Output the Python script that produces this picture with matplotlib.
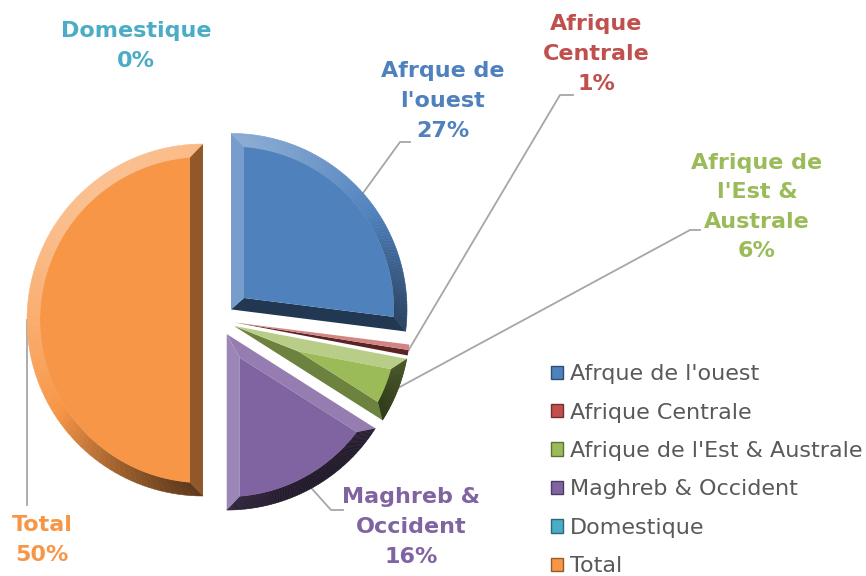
import numpy as np
import matplotlib
matplotlib.use("Agg")
import matplotlib.pyplot as plt
from matplotlib.patches import Polygon
from matplotlib.colors import to_rgb

# ---- data ----
categories = ["Afrque de l'ouest", "Afrique Centrale", "Afrique de l'Est & Australe",
              "Maghreb & Occident", "Domestique", "Total"]
values = [27, 1, 6, 16, 0, 50]
label_texts = ["Afrque de\nl'ouest\n27%", "Afrique\nCentrale\n1%", "Afrique de\nl'Est &\nAustrale\n6%",
               "Maghreb &\nOccident\n16%", "Domestique\n0%", "Total\n50%"]
colors = ["#4F81BD", "#C0504D", "#9BBB59", "#8064A2", "#4BACC6", "#F79646"]

W, H = 866, 576
fig = plt.figure(figsize=(W / 100, H / 100), dpi=100)
ax = fig.add_axes([0, 0, 1, 1])

R = 176
CENTER = (219, H - 320)
EXPL = 16
wedges, _ = ax.pie(values, colors=colors, startangle=90, counterclock=False,
                   radius=R, center=CENTER, explode=[EXPL] * len(values),
                   frame=True)
ax.set_xlim(0, W)
ax.set_ylim(0, H)
ax.set_aspect("equal")
ax.axis("off")

LIGHT = np.array([-0.55, 0.83])
LIGHT = LIGHT / np.linalg.norm(LIGHT)


def shade(col, n):
    base = np.array(to_rgb(col))
    s = float(np.dot(n, LIGHT))
    if s >= 0:
        return base + (1 - base) * 0.4 * s
    return base * (1 + 0.75 * s)


def bevel(w, t=13):
    if w.theta2 - w.theta1 < 1e-6:
        return
    col = w.get_facecolor()[:3]
    cx, cy = w.center
    r = w.r
    t1, t2 = np.radians(w.theta1), np.radians(w.theta2)
    half = (t2 - t1) / 2
    c = np.array([cx, cy])
    pol = lambda a, rr: c + rr * np.array([np.cos(a), np.sin(a)])
    ri = r - t
    d = np.arcsin(min(t / ri, 1))
    apex_dist = t / np.sin(half) if half < np.pi / 2 else t
    small = (t2 - t1 - 2 * d) <= 0.02 or apex_dist > ri * 0.8
    w.set_visible(False)
    if small:
        mid = (t1 + t2) / 2
        n1 = np.array([np.cos(t2 + np.pi / 2), np.sin(t2 + np.pi / 2)])
        n2 = np.array([np.cos(t1 - np.pi / 2), np.sin(t1 - np.pi / 2)])
        ax.add_patch(Polygon([c, pol(t1, r), pol(mid, r)], closed=True,
                             fc=shade(col, n2), ec="none", zorder=3))
        ax.add_patch(Polygon([c, pol(mid, r), pol(t2, r)], closed=True,
                             fc=shade(col, n1), ec="none", zorder=3))
        return
    apex = c + apex_dist * np.array([np.cos(t1 + half), np.sin(t1 + half)])
    a_in1, a_in2 = t1 + d, t2 - d
    arc_in = [pol(a, ri) for a in np.linspace(a_in1, a_in2, 80)]
    ax.add_patch(Polygon([apex] + arc_in, closed=True, fc=col, ec="none", zorder=4))
    N = 90
    so = np.linspace(t1, t2, N + 1)
    si = np.linspace(a_in1, a_in2, N + 1)
    for k in range(N):
        am = (so[k] + so[k + 1]) / 2
        n = np.array([np.cos(am), np.sin(am)])
        quad = [pol(so[k], r), pol(so[k + 1], r), pol(si[k + 1], ri), pol(si[k], ri)]
        fc = shade(col, n)
        ax.add_patch(Polygon(quad, closed=True, fc=fc, ec=fc, lw=0.4, zorder=3))
    n1 = np.array([np.cos(t1 - np.pi / 2), np.sin(t1 - np.pi / 2)])
    n2 = np.array([np.cos(t2 + np.pi / 2), np.sin(t2 + np.pi / 2)])
    ax.add_patch(Polygon([c, pol(t1, r), pol(a_in1, ri), apex], closed=True,
                         fc=shade(col, n1), ec="none", zorder=3))
    ax.add_patch(Polygon([c, apex, pol(a_in2, ri), pol(t2, r)], closed=True,
                         fc=shade(col, n2), ec="none", zorder=3))


for w in wedges:
    bevel(w)


def ypix(y):
    return H - y


# ---- labels (positions in pixels, y from top) ----
lab_pos = [(443, 101), (596, 54), (757, 207), (411, 527), (136, 46), (42, 540)]
leader_pts = [
    [0.5, (400, 142), (410, 142)],
    [0.5, (560, 95), (573, 95)],
    [0.55, (690, 230), (700, 230)],
    [0.5, (331, 510), (343, 510)],
    None,
    [None, (27, 505)],
]
fs = 16
for i, w in enumerate(wedges):
    x, y = lab_pos[i]
    ax.text(x, ypix(y), label_texts[i], ha="center", va="center", fontsize=fs,
            fontweight="bold", color=colors[i], family="DejaVu Sans",
            linespacing=1.6, zorder=6)
    lp = leader_pts[i]
    if lp is None:
        continue
    if lp[0] is None:
        a = np.radians(180)
    else:
        a = np.radians(w.theta1 + (w.theta2 - w.theta1) * lp[0])
    cx, cy = w.center
    start = (cx + w.r * np.cos(a), cy + w.r * np.sin(a))
    xs = [start[0]] + [p[0] for p in lp[1:]]
    ys = [start[1]] + [ypix(p[1]) for p in lp[1:]]
    ax.plot(xs, ys, color="#A6A6A6", lw=1.3, zorder=2)

# ---- legend ----
leg = fig.legend(wedges, categories, loc="upper left",
                 bbox_to_anchor=(540 / W, 1 - 353 / H), frameon=False,
                 fontsize=16, handlelength=0.55, handleheight=0.55,
                 handletextpad=0.3, labelspacing=0.83, borderpad=0)
for h, c in zip(leg.legend_handles, colors):
    h.set_visible(True)
    h.set_facecolor(c)
    h.set_edgecolor(np.array(to_rgb(c)) * 0.6)
for t in leg.get_texts():
    t.set_color("#595959")

fig.savefig("out.png", dpi=100)
